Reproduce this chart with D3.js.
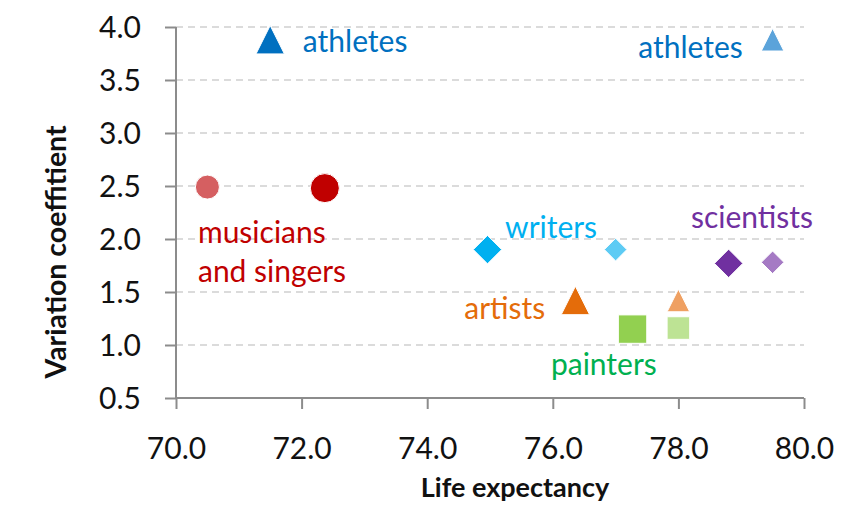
<!DOCTYPE html>
<html>
<head>
<meta charset="utf-8">
<script src="https://cdn.jsdelivr.net/npm/d3@7"></script>
<style>
  html, body { margin: 0; padding: 0; background: #fff; }
  svg { display: block; }
  text { font-family: Lato, "Open Sans", sans-serif; }
</style>
</head>
<body>
<svg id="chart" width="855" height="510"></svg>
<script>
// ---- Data ----
const categories = ["athletes", "musicians and singers", "writers", "scientists", "artists", "painters"];
const shapes = ["triangle", "circle", "diamond", "diamond", "triangle", "square"];
// first group (darker, larger markers)
const lifeExpA = [71.5, 72.37, 74.96, 78.8, 76.36, 77.27];
const varCoefA = [3.88, 2.48, 1.90, 1.77, 1.42, 1.15];
// second group (lighter, smaller markers)
const lifeExpB = [79.5, 70.5, 77.0, 79.5, 78.0, 78.0];
const varCoefB = [3.88, 2.49, 1.90, 1.78, 1.42, 1.16];
const colorsA = ["#0070C0", "#C00000", "#00B0F0", "#7030A0", "#E46C0A", "#92D050"];
const colorsB = ["#5BA3DA", "#D55F61", "#5DCBF4", "#A57AC4", "#EFA062", "#BDE394"];
const labelColors = ["#0070C0", "#C00000", "#00B0F0", "#7030A0", "#E46C0A", "#00B050"];
const xTicks = [70, 72, 74, 76, 78, 80];
const yTicks = [0.5, 1.0, 1.5, 2.0, 2.5, 3.0, 3.5, 4.0];
const xTitle = "Life expectancy";
const yTitle = "Variation coeffitient";
// annotation anchors in data coordinates (left x, baseline y)
const annotations = [
  { lines: ["athletes"], x: 72.02, y: 3.767, c: 0 },
  { lines: ["athletes"], x: 77.36, y: 3.705, c: 0 },
  { lines: ["musicians", "and singers"], x: 70.35, y: 1.959, c: 1 },
  { lines: ["writers"], x: 75.24, y: 2.007, c: 2 },
  { lines: ["scientists"], x: 78.2, y: 2.10, c: 3 },
  { lines: ["artists"], x: 74.59, y: 1.245, c: 4 },
  { lines: ["painters"], x: 75.97, y: 0.717, c: 5 }
];

// ---- Layout ----
const svg = d3.select("#chart");
const x = d3.scaleLinear().domain([70, 80]).range([176, 804]);
const y = d3.scaleLinear().domain([0.5, 4.0]).range([398, 27]);
const axisColor = "#8C8C8C";

// gridlines
svg.append("g").selectAll("line").data(yTicks.filter(v => v > 0.5)).join("line")
  .attr("x1", x(70)).attr("x2", x(80))
  .attr("y1", d => y(d)).attr("y2", d => y(d))
  .attr("stroke", "#D0D0D0").attr("stroke-width", 1.6)
  .attr("stroke-dasharray", "7,5");

// axes
const yAxis = svg.append("g").attr("transform", `translate(${x(70)},0)`)
  .call(d3.axisLeft(y).tickValues(yTicks).tickFormat(d3.format(".1f")).tickSize(11).tickPadding(24));
const xAxis = svg.append("g").attr("transform", `translate(0,${y(0.5)})`)
  .call(d3.axisBottom(x).tickValues(xTicks).tickFormat(d3.format(".1f")).tickSize(11).tickPadding(29));
[yAxis, xAxis].forEach(g => {
  g.select(".domain").attr("stroke", axisColor).attr("stroke-width", 2);
  g.selectAll(".tick line").attr("stroke", axisColor).attr("stroke-width", 2);
  g.selectAll(".tick text").attr("fill", "#111").style("font-size", "30px").style("font-family", "Lato, sans-serif");
});
yAxis.select(".domain").attr("d", `M0,${y(4)}V${y(0.5)}`);
xAxis.select(".domain").attr("d", `M${x(70)},0H${x(80)}`);
yAxis.selectAll(".tick text").attr("dy", "0.36em");

// axis titles
svg.append("text").attr("x", 515).attr("y", 497).attr("text-anchor", "middle")
  .style("font-size", "27px").style("font-weight", "bold").attr("fill", "#111")
  .text(xTitle);
svg.append("text").attr("transform", "translate(66,252) rotate(-90)").attr("text-anchor", "middle")
  .style("font-size", "28.5px").style("font-weight", "bold").attr("fill", "#111")
  .text(yTitle);

// markers
function shapePath(type, s) {
  if (type === "triangle") return `M0,${-s}L${s},${s}L${-s},${s}Z`;
  if (type === "diamond") return `M0,${-s}L${s},0L0,${s}L${-s},0Z`;
  if (type === "square") return `M${-s},${-s}H${s}V${s}H${-s}Z`;
  return d3.arc()({ innerRadius: 0, outerRadius: s, startAngle: 0, endAngle: 2 * Math.PI });
}
const pts = [];
categories.forEach((c, i) => {
  pts.push({ i, x: lifeExpA[i], y: varCoefA[i], col: colorsA[i], s: shapes[i] === "circle" ? 14.5 : 14.2 });
  pts.push({ i, x: lifeExpB[i], y: varCoefB[i], col: colorsB[i], s: shapes[i] === "circle" ? 12 : 11.3 });
});
svg.append("g").selectAll("path").data(pts).join("path")
  .attr("transform", d => `translate(${x(d.x)},${y(d.y)})`)
  .attr("d", d => shapePath(shapes[d.i], d.s))
  .attr("fill", d => d.col)
  .attr("stroke", "#fff").attr("stroke-width", 1);

// annotations
const ann = svg.append("g");
annotations.forEach(a => {
  const t = ann.append("text").attr("x", x(a.x)).attr("y", y(a.y))
    .style("font-size", "30px").attr("fill", labelColors[a.c]);
  a.lines.forEach((l, k) => {
    t.append("tspan").attr("x", x(a.x)).attr("dy", k === 0 ? 0 : 38.4).text(l);
  });
});
</script>
</body>
</html>
